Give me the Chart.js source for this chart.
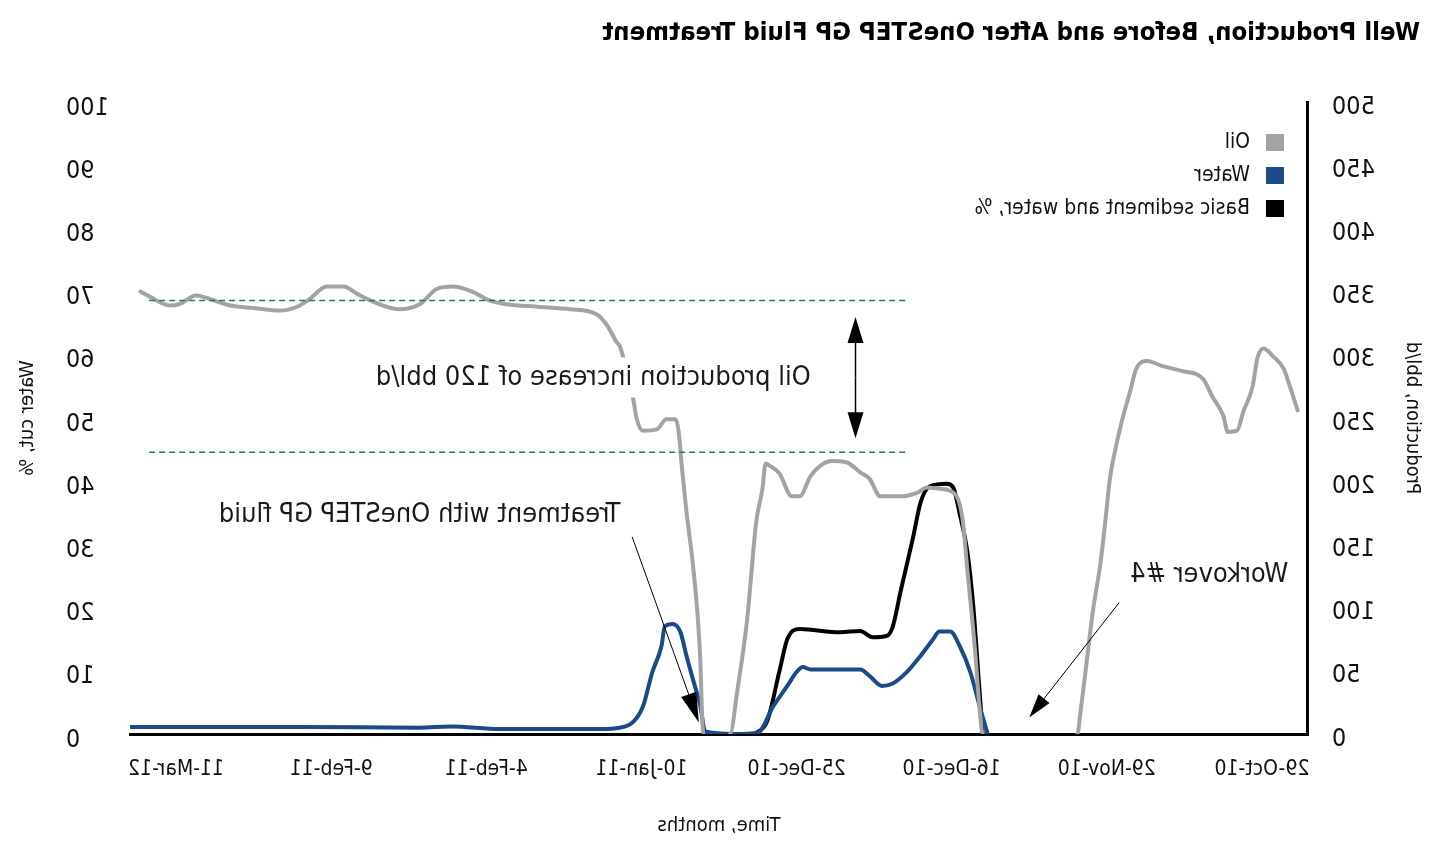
<!DOCTYPE html>
<html>
<head>
<meta charset="utf-8">
<script src="https://cdn.jsdelivr.net/npm/chart.js@4.4.1/dist/chart.umd.min.js"></script>
<style>
  html, body { margin: 0; padding: 0; background: #fff; overflow: hidden; }
  /* the reference picture is mirrored left-right, text included */
  #wrap { width: 1442px; height: 846px; transform: scaleX(-1); }
</style>
</head>
<body>
<div id="wrap"><canvas id="chart" width="1442" height="846"></canvas></div>
<script>
const dateLabels = ['29-Oct-10', '29-Nov-10', '16-Dec-10', '25-Dec-10', '10-Jan-11', '4-Feb-11', '9-Feb-11', '11-Mar-12'];

// [position along the date labels, oil bbl/d]
const oil = [
  [-0.23, 256], [-0.18, 275], [-0.14, 289], [-0.07, 299], [-0.01, 305], [0.03, 297], [0.06, 275],
  [0.12, 255], [0.16, 240], [0.22, 239], [0.25, 252], [0.32, 267], [0.38, 281], [0.51, 287],
  [0.64, 291], [0.74, 295], [0.81, 289], [0.85, 271], [0.90, 249], [0.94, 228], [0.98, 202],
  [1.01, 168], [1.04, 136], [1.09, 97], [1.13, 57], [1.17, 17], [1.19, 0], [1.50, 0],
  [1.80, 0], [1.82, 20], [1.85, 67], [1.90, 131], [1.93, 170], [1.98, 190], [2.08, 194],
  [2.16, 195], [2.22, 191], [2.33, 188], [2.46, 188], [2.53, 202], [2.59, 207], [2.68, 215],
  [2.77, 216], [2.85, 212], [2.91, 204], [2.98, 188], [3.03, 188], [3.11, 206], [3.17, 212],
  [3.20, 214], [3.22, 194], [3.26, 168], [3.32, 89], [3.38, 36], [3.43, 0], [3.50, 0],
  [3.60, 0], [3.61, 17], [3.62, 57], [3.64, 97], [3.67, 136], [3.71, 176], [3.74, 212],
  [3.76, 239], [3.78, 249], [3.84, 249], [3.90, 241], [3.99, 240], [4.03, 249], [4.05, 263],
  [4.09, 285], [4.14, 307], [4.16, 310], [4.22, 323], [4.29, 332], [4.46, 336], [4.67, 338],
  [4.87, 340], [4.98, 343], [5.09, 350], [5.22, 354], [5.32, 352], [5.43, 340], [5.56, 336],
  [5.73, 342], [5.83, 348], [5.92, 354], [6.03, 354], [6.14, 344], [6.22, 338], [6.33, 335],
  [6.50, 337], [6.65, 339], [6.78, 344], [6.87, 347], [6.98, 340], [7.04, 339], [7.17, 346],
  [7.23, 350]
];

// [position, water bbl/d]
const water = [
  [1.77, 1], [1.82, 22], [1.88, 49], [1.95, 70], [2.01, 81], [2.08, 81], [2.12, 75], [2.20, 62],
  [2.29, 49], [2.38, 40], [2.45, 38], [2.53, 46], [2.59, 51], [2.91, 51], [2.96, 53], [3.00, 49],
  [3.06, 38], [3.15, 22], [3.25, 1], [3.40, 0], [3.59, 2], [3.62, 22], [3.67, 44], [3.71, 62],
  [3.75, 81], [3.80, 87], [3.85, 85], [3.87, 70], [3.93, 49], [3.99, 22], [4.05, 10], [4.14, 5],
  [4.27, 4], [4.91, 4], [5.23, 6], [5.43, 5], [6.20, 5.5], [7.30, 5.5]
];

// [position, basic sediment and water %]
const bsw = [
  [1.80, 0], [1.83, 10], [1.86, 20], [1.90, 29], [1.95, 35], [1.99, 39], [2.03, 39.6], [2.14, 39.2],
  [2.20, 36.7], [2.25, 31], [2.33, 22.5], [2.38, 17], [2.42, 15.5], [2.51, 15.3], [2.59, 16.3],
  [2.72, 16.1], [2.98, 16.6], [3.06, 15], [3.11, 10], [3.19, 2], [3.27, 0]
];

const FONT = "'DejaVu Sans Condensed', 'Liberation Sans Narrow', sans-serif";

// annotation anchors, in data units (x: date position, y: bbl/d)
const notes = {
  band: { from: 2.30, to: 7.18, upper: 343, lower: 223 },
  gainArrow: { x: 2.62, top: 330, bottom: 234 },
  gainText: { x: 4.31, y: 282, text: 'Oil production increase of 120 bbl/d' },
  treatText: { x: 5.43, y: 173, text: 'Treatment with OneSTEP GP fluid' },
  treatArrow: { x1: 4.06, y1: 156, x2: 3.63, y2: 9 },
  workText: { x: 0.34, y: 126, text: 'Workover #4' },
  workArrow: { x1: 0.92, y1: 104, x2: 1.50, y2: 13 }
};

function toPts(arr) { return arr.map(p => ({ x: p[0], y: p[1] })); }

// segments lying on the zero line are hidden by the axis in the original
const hideZero = { borderColor: c => (c.p0.parsed.y === 0 && c.p1.parsed.y === 0 ? 'rgba(0,0,0,0)' : undefined) };

function arrow(ctx, x1, y1, x2, y2, len, half) {
  const a = Math.atan2(y2 - y1, x2 - x1);
  ctx.beginPath();
  ctx.moveTo(x1, y1);
  ctx.lineTo(x2 - Math.cos(a) * len * 0.8, y2 - Math.sin(a) * len * 0.8);
  ctx.stroke();
  ctx.beginPath();
  ctx.moveTo(x2, y2);
  ctx.lineTo(x2 - Math.cos(a) * len - Math.sin(a) * half, y2 - Math.sin(a) * len + Math.cos(a) * half);
  ctx.lineTo(x2 - Math.cos(a) * len + Math.sin(a) * half, y2 - Math.sin(a) * len - Math.cos(a) * half);
  ctx.closePath();
  ctx.fill();
}

const annotations = {
  id: 'annotations',
  afterDatasetsDraw(chart) {
    const { ctx } = chart;
    const xs = chart.scales.x, ys = chart.scales.prod;
    const px = v => xs.getPixelForValue(v), py = v => ys.getPixelForValue(v);
    ctx.save();

    // dashed reference levels
    ctx.strokeStyle = '#2f7565';
    ctx.lineWidth = 1.5;
    ctx.setLineDash([6, 4]);
    [notes.band.upper, notes.band.lower].forEach(v => {
      ctx.beginPath();
      ctx.moveTo(px(notes.band.from), py(v));
      ctx.lineTo(px(notes.band.to), py(v));
      ctx.stroke();
    });
    ctx.setLineDash([]);

    ctx.font = '27px ' + FONT;
    ctx.textAlign = 'center';
    ctx.textBaseline = 'middle';
    [notes.gainText, notes.treatText, notes.workText].forEach((n, i) => {
      const x = px(n.x), y = py(n.y);
      if (i === 0) {
        const w = ctx.measureText(n.text).width;
        ctx.fillStyle = '#fff';
        ctx.fillRect(x - w / 2 - 4, y - 20, w + 8, 40);
      }
      ctx.fillStyle = '#1a1a1a';
      ctx.fillText(n.text, x, y);
    });

    ctx.strokeStyle = '#000';
    ctx.fillStyle = '#000';
    ctx.lineWidth = 1.5;
    const ga = notes.gainArrow;
    const mid = (py(ga.top) + py(ga.bottom)) / 2;
    arrow(ctx, px(ga.x), mid, px(ga.x), py(ga.top), 26, 8);
    arrow(ctx, px(ga.x), mid, px(ga.x), py(ga.bottom), 26, 8);

    ctx.lineWidth = 1;
    const ta = notes.treatArrow;
    arrow(ctx, px(ta.x1), py(ta.y1), px(ta.x2), py(ta.y2), 30, 8);
    const wa = notes.workArrow;
    arrow(ctx, px(wa.x1), py(wa.y1), px(wa.x2), py(wa.y2), 24, 7);
    ctx.restore();
  },
  afterDraw(chart) {
    // legend in the top corner of the plot
    const { ctx, chartArea } = chart;
    ctx.save();
    ctx.font = '21px ' + FONT;
    ctx.textBaseline = 'middle';
    ctx.textAlign = 'left';
    chart.data.datasets.forEach((ds, i) => {
      const y = chartArea.top + 41 + i * 33;
      ctx.fillStyle = ds.borderColor;
      ctx.fillRect(chartArea.left + 24, y - 9, 18, 17);
      ctx.fillStyle = '#111';
      ctx.fillText(ds.label, chartArea.left + 58, y);
    });
    ctx.restore();
  }
};

new Chart(document.getElementById('chart'), {
  type: 'line',
  data: {
    datasets: [
      { label: 'Oil', data: toPts(oil), yAxisID: 'prod', borderColor: '#a3a3a3', borderWidth: 4, segment: hideZero },
      { label: 'Water', data: toPts(water), yAxisID: 'prod', borderColor: '#1a4a88', borderWidth: 4, segment: hideZero },
      { label: 'Basic sediment and water, %', data: toPts(bsw), yAxisID: 'cut', borderColor: '#000', borderWidth: 4, segment: hideZero }
    ]
  },
  options: {
    responsive: false,
    animation: false,
    elements: { point: { radius: 0 }, line: { cubicInterpolationMode: 'monotone', borderCapStyle: 'round', borderJoinStyle: 'round' } },
    layout: { padding: { left: 22, right: 66, top: 0, bottom: 0 } },
    plugins: {
      legend: { display: false },
      tooltip: { enabled: false },
      title: {
        display: true,
        text: 'Well Production, Before and After OneSTEP GP Fluid Treatment',
        align: 'start',
        color: '#000',
        font: { family: FONT, size: 25.5, weight: 'bold', lineHeight: 1.2 },
        padding: { top: 18, bottom: 53.4 }
      }
    },
    scales: {
      x: {
        type: 'linear',
        min: -0.297,
        max: 7.297,
        z: 1,
        grid: { display: false, drawTicks: false },
        border: { display: true, color: '#000', width: 3 },
        afterBuildTicks: s => { s.ticks = dateLabels.map((_, i) => ({ value: i })); },
        ticks: {
          callback: v => dateLabels[v],
          autoSkip: false,
          maxRotation: 0,
          padding: 23,
          color: '#111',
          font: { family: FONT, size: 21 }
        },
        title: { display: true, text: 'Time, months', color: '#111', font: { family: FONT, size: 20 }, padding: { top: 0, bottom: 8 } },
        afterFit: s => { s.height = 112; }
      },
      prod: {
        position: 'left',
        min: 0,
        max: 500,
        z: 1,
        grid: { display: false, drawTicks: false },
        border: { display: true, color: '#000', width: 3 },
        ticks: { stepSize: 50, padding: 24, labelOffset: 5, color: '#111', font: { family: FONT, size: 25 } },
        title: { display: true, text: 'Production, bbl/d', color: '#111', font: { family: FONT, size: 20 }, padding: { top: -4, bottom: 0 } },
        afterFit: s => { s.width = 112; }
      },
      cut: {
        position: 'right',
        min: 0,
        max: 100,
        grid: { display: false, drawTicks: false },
        border: { display: false },
        ticks: { stepSize: 10, padding: 24, labelOffset: 6, crossAlign: 'far', color: '#111', font: { family: FONT, size: 25 } },
        title: { display: true, text: 'Water cut, %', color: '#111', font: { family: FONT, size: 20 }, padding: { top: -50, bottom: 0 } },
        afterFit: s => { s.width = 64; }
      }
    }
  },
  plugins: [annotations]
});
</script>
</body>
</html>
